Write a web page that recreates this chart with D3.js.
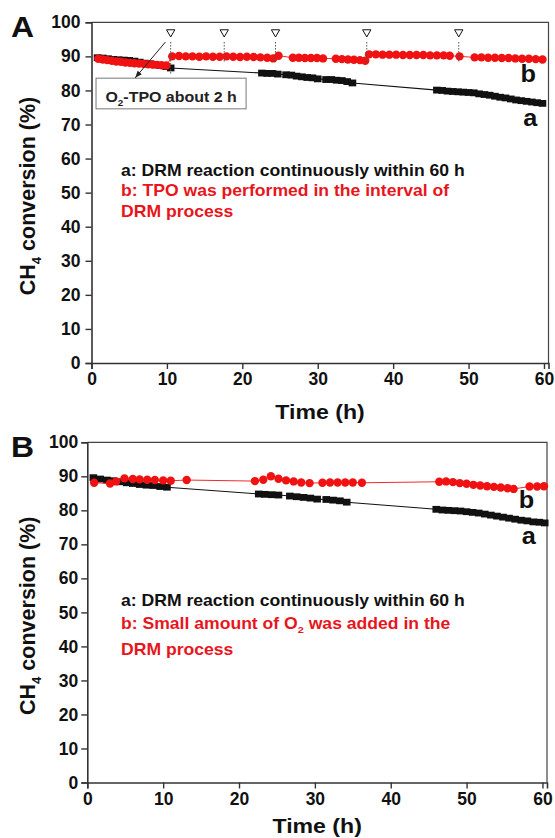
<!DOCTYPE html>
<meta charset="utf-8">
<body style="margin:0;background:#fff">
<script src="https://d3js.org/d3.v7.min.js"></script>
<script>

var width = 555,
  height = 838;

// Panel A: a = continuous DRM, b = DRM with TPO in the intervals
var timeA_a = [0.8,1.5,2.2,2.9,3.6,4.3,5.0,5.7,6.4,7.1,7.8,8.5,9.2,9.9,10.5,
  22.6,23.3,24.0,24.7,25.8,26.5,27.2,27.9,28.6,29.3,30.0,31.1,31.8,32.5,33.2,33.9,34.6,
  45.8,46.5,47.2,47.9,48.6,49.3,50.0,50.7,51.4,52.1,52.8,53.5,54.2,54.9,55.6,56.3,57.0,57.7,58.4,59.1,59.8];
var convA_a = [89.6,89.5,89.3,89.1,89.0,88.9,88.8,88.6,88.3,88.0,87.8,87.5,87.3,87.0,86.6,
  85.1,85.0,85.0,84.8,84.6,84.5,84.2,84.0,83.8,83.7,83.4,83.2,83.2,83.0,82.9,82.6,82.2,
  80.1,80.0,79.8,79.7,79.6,79.5,79.4,79.3,79.0,78.8,78.6,78.3,78.0,77.8,77.5,77.2,77.0,76.8,76.6,76.4,76.2];
var timeA_b = [0.9,1.5,2.1,2.7,3.3,3.9,4.5,5.1,5.7,6.3,6.9,7.5,8.1,8.7,9.3,9.9,
  10.7,11.6,12.5,13.4,14.3,15.2,16.1,17.0,17.9,18.8,19.7,20.6,21.5,22.4,23.3,24.1,
  24.8,26.7,27.5,28.3,29.1,29.9,30.7,32.4,33.2,34.0,34.8,35.6,36.3,
  36.8,37.7,38.6,39.5,40.4,41.3,42.2,43.1,44.0,44.9,45.8,46.7,47.5,
  48.8,
  50.8,51.7,52.6,53.5,54.4,55.3,56.2,57.1,58.0,58.9,59.8];
var convA_b = [89.3,89.1,88.9,88.7,88.5,88.4,88.2,88.1,88.0,87.9,87.8,87.7,87.6,87.5,87.4,87.3,
  90.0,90.1,90.0,90.0,89.9,90.0,89.9,89.9,90.0,89.9,89.8,89.9,89.8,89.7,89.6,89.4,
  90.2,89.6,89.6,89.5,89.5,89.5,89.4,89.3,89.2,89.1,89.0,88.9,88.7,
  90.6,90.6,90.5,90.5,90.5,90.4,90.4,90.4,90.4,90.3,90.3,90.3,90.2,
  90.0,
  89.7,89.7,89.6,89.6,89.5,89.5,89.4,89.3,89.3,89.2,89.1];
var tpoTimes = [10.5, 17.6, 24.4, 36.5, 48.7];

// Panel B: a = continuous DRM, b = small amount of O2 added
var timeB_a = [0.8,1.7,2.6,3.4,4.3,5.2,6.0,6.9,7.8,8.7,9.6,10.5,
  22.6,23.4,24.3,25.2,26.7,27.6,28.5,29.4,30.3,31.5,32.4,33.3,34.2,
  46.0,46.8,47.6,48.4,49.2,50.0,50.8,51.6,52.4,53.2,54.0,54.8,55.6,56.4,57.2,58.0,58.8,59.6,60.3];
var convB_a = [89.6,89.2,88.9,88.7,88.4,88.1,87.9,87.6,87.4,87.3,87.0,86.8,
  84.8,84.7,84.6,84.5,84.2,84.0,83.8,83.6,83.3,83.2,83.0,82.8,82.4,
  80.3,80.1,80.0,79.9,79.8,79.6,79.4,79.2,78.9,78.6,78.3,78.0,77.7,77.4,77.1,76.9,76.6,76.5,76.3];
var timeB_b = [0.9,3.0,3.8,4.9,6.0,6.9,7.9,8.9,10.0,11.0,13.1,
  22.1,23.2,24.2,25.2,26.2,27.2,28.2,29.3,
  31.0,32.0,33.0,34.0,35.0,36.2,
  46.4,47.3,48.2,49.1,50.0,50.9,51.8,52.7,53.6,54.5,55.4,56.2,
  58.3,59.3,60.2];
var convB_b = [88.1,87.9,88.5,89.4,89.2,89.1,89.0,88.9,88.8,88.7,88.9,
  88.6,89.0,90.0,89.3,88.8,88.5,88.2,88.0,
  88.1,88.2,88.2,88.2,88.2,88.1,
  88.4,88.5,88.3,88.0,87.8,87.5,87.3,87.1,86.9,86.7,86.5,86.3,
  87.0,87.0,87.1];

var xTicks = [0, 10, 20, 30, 40, 50, 60],
  xMinor = [5, 15, 25, 35, 45, 55],
  yTicks = [0, 10, 20, 30, 40, 50, 60, 70, 80, 90, 100],
  yMinor = [5, 15, 25, 35, 45, 55, 65, 75, 85, 95];

var notesA = [
  {parts: [{t: "a: DRM reaction continuously within 60 h"}], color: "#111"},
  {parts: [{t: "b: TPO was performed in the interval of"}], color: "#e8161c"},
  {parts: [{t: "DRM process"}], color: "#e8161c"}
];
var notesB = [
  {parts: [{t: "a: DRM reaction continuously within 60 h"}], color: "#111"},
  {parts: [{t: "b: Small amount of O"}, {t: "2", sub: true}, {t: " was added in the"}], color: "#e8161c"},
  {parts: [{t: "DRM process"}], color: "#e8161c"}
];

var RED = "#f01212", FONT = "'Liberation Sans', Arial, sans-serif", SX = 1.1;

var svg = d3.select("body").append("svg")
  .attr("width", width)
  .attr("height", height)
  .style("font-family", FONT);

// text with a slight horizontal stretch like the scanned figure
function label(g, x, y, parts, size, color, anchor, sx) {
  var t = g.append("text")
    .attr("transform", "translate(" + x + "," + y + ") scale(" + (sx || SX) + ",1)")
    .attr("font-size", size)
    .attr("font-weight", "bold")
    .attr("fill", color)
    .attr("text-anchor", anchor || "start");
  parts.forEach(function(p, i) {
    var s = t.append("tspan").text(p.t);
    if (p.sub) s.attr("font-size", size * 0.62).attr("dy", size * 0.28);
    else if (i > 0 && parts[i - 1].sub) s.attr("dy", -size * 0.28);
  });
  return t;
}

function panel(o) {
  var g = svg.append("g");
  var x = d3.scaleLinear().domain([0, 60.6]).range([o.left, o.right]);
  var y = d3.scaleLinear().domain([0, 100]).range([o.bottom, o.top]);

  // frame top + right
  g.append("path")
    .attr("d", "M" + o.left + "," + o.top + "H" + o.right + "V" + o.bottom)
    .attr("fill", "none").attr("stroke", "#444").attr("stroke-width", 1.2);

  var ax = g.append("g").attr("transform", "translate(0," + o.bottom + ")");
  ax.call(d3.axisBottom(x).tickValues(xMinor).tickSize(3).tickFormat(""));
  ax.call(d3.axisBottom(x).tickValues(xTicks).tickSize(6).tickPadding(4).tickFormat(d3.format("d")));
  var ay = g.append("g").attr("transform", "translate(" + o.left + ",0)");
  ay.call(d3.axisLeft(y).tickValues(yMinor).tickSize(4).tickFormat(""));
  ay.call(d3.axisLeft(y).tickValues(yTicks).tickSize(6).tickPadding(o.ypad).tickFormat(d3.format("d")));

  g.selectAll(".domain").attr("stroke", "#333").attr("stroke-width", 1.6);
  g.selectAll(".tick line").attr("stroke", "#333").attr("stroke-width", 1.4);
  g.selectAll(".tick text")
    .attr("font-family", FONT).attr("font-size", 17.5).attr("font-weight", "bold").attr("fill", "#111");

  var line = d3.line().x(function(d) { return x(d[0]); }).y(function(d) { return y(d[1]); });

  var ptsA = d3.zip(o.ta, o.ca), ptsB = d3.zip(o.tb, o.cb);

  g.append("path").datum(ptsA).attr("d", line)
    .attr("fill", "none").attr("stroke", "#111").attr("stroke-width", 1.1);
  g.selectAll(".sq").data(ptsA).enter().append("rect")
    .attr("x", function(d) { return x(d[0]) - 3.8; })
    .attr("y", function(d) { return y(d[1]) - 3.4; })
    .attr("width", 7.6).attr("height", 6.8).attr("fill", "#111");

  g.append("path").datum(ptsB).attr("d", line)
    .attr("fill", "none").attr("stroke", RED).attr("stroke-width", 0.9);
  g.selectAll(".ci").data(ptsB).enter().append("circle")
    .attr("cx", function(d) { return x(d[0]); })
    .attr("cy", function(d) { return y(d[1]); })
    .attr("r", 4.2).attr("fill", RED);

  // panel letter, axis titles
  label(g, 11, o.top + 15, [{t: o.letter}], 29, "#111", "start");
  label(g, (o.left + o.right) / 2, o.xTitleY, [{t: "Time (h)"}], 21, "#111", "middle");
  label(g, 0, 0, [{t: "CH"}, {t: "4", sub: true}, {t: " conversion (%)"}], 21.5, "#111", "middle", 1)
    .attr("transform", "translate(35," + y(49) + ") rotate(-90)");

  // series tags
  label(g, x(57.9), o.tagB, [{t: "b"}], 23, "#111", "middle");
  label(g, x(58.2), o.tagA, [{t: "a"}], 23, "#111", "middle");

  // notes
  o.notes.forEach(function(n, i) {
    label(g, 121, o.noteY[i], n.parts, 16, n.color, "start");
  });

  return {g: g, x: x, y: y};
}

var pA = panel({
  left: 91.5, right: 548.5, top: 22.3, bottom: 363, ypad: 5,
  ta: timeA_a, ca: convA_a, tb: timeA_b, cb: convA_b,
  letter: "A", xTitleY: 419, tagA: 126, tagB: 82,
  notes: notesA, noteY: [176, 196, 217]
});

var pB = panel({
  left: 87.3, right: 547, top: 442.3, bottom: 782.5, ypad: 3,
  ta: timeB_a, ca: convB_a, tb: timeB_b, cb: convB_b,
  letter: "B", xTitleY: 833, tagA: 544, tagB: 508,
  notes: notesB, noteY: [606, 629, 655]
});

// TPO markers in panel A
var gA = pA.g, xA = pA.x, yA = pA.y;
gA.selectAll(".tpo").data(tpoTimes).enter().append("line")
  .attr("x1", function(d) { return xA(d); }).attr("x2", function(d) { return xA(d); })
  .attr("y1", yA(94.2))
  .attr("y2", function(d, i) { return i === 0 ? yA(84.6) : yA(88.4); })
  .attr("stroke", "#555").attr("stroke-width", 1).attr("stroke-dasharray", "1.5,1.5");
gA.selectAll(".tri").data(tpoTimes).enter().append("path")
  .attr("d", d3.symbol().type(d3.symbolTriangle).size(30))
  .attr("transform", function(d) { return "translate(" + xA(d) + "," + yA(97.1) + ") rotate(180)"; })
  .attr("fill", "#fff").attr("stroke", "#111").attr("stroke-width", 1);

// annotation box with arrow
svg.append("defs").append("marker")
  .attr("id", "head").attr("viewBox", "0 -5 10 10")
  .attr("refX", 10).attr("refY", 0)
  .attr("markerWidth", 7).attr("markerHeight", 7)
  .attr("orient", "auto")
  .append("path").attr("d", "M0,-4L10,0L0,4Z").attr("fill", "#222");

gA.append("rect")
  .attr("x", xA(0.6)).attr("y", yA(83.6))
  .attr("width", xA(20.5) - xA(0.6)).attr("height", yA(74.6) - yA(83.6))
  .attr("fill", "#fff").attr("stroke", "#777").attr("stroke-width", 1);
label(gA, (xA(0.6) + xA(20.5)) / 2, yA(76.7), [{t: "O"}, {t: "2", sub: true}, {t: "-TPO about 2 h"}], 14.5, "#222", "middle");
gA.append("line")
  .attr("x1", xA(9.8)).attr("y1", yA(94.2))
  .attr("x2", xA(5.8)).attr("y2", yA(83.7))
  .attr("stroke", "#222").attr("stroke-width", 1)
  .attr("marker-end", "url(#head)");

</script>
</body>
</html>
